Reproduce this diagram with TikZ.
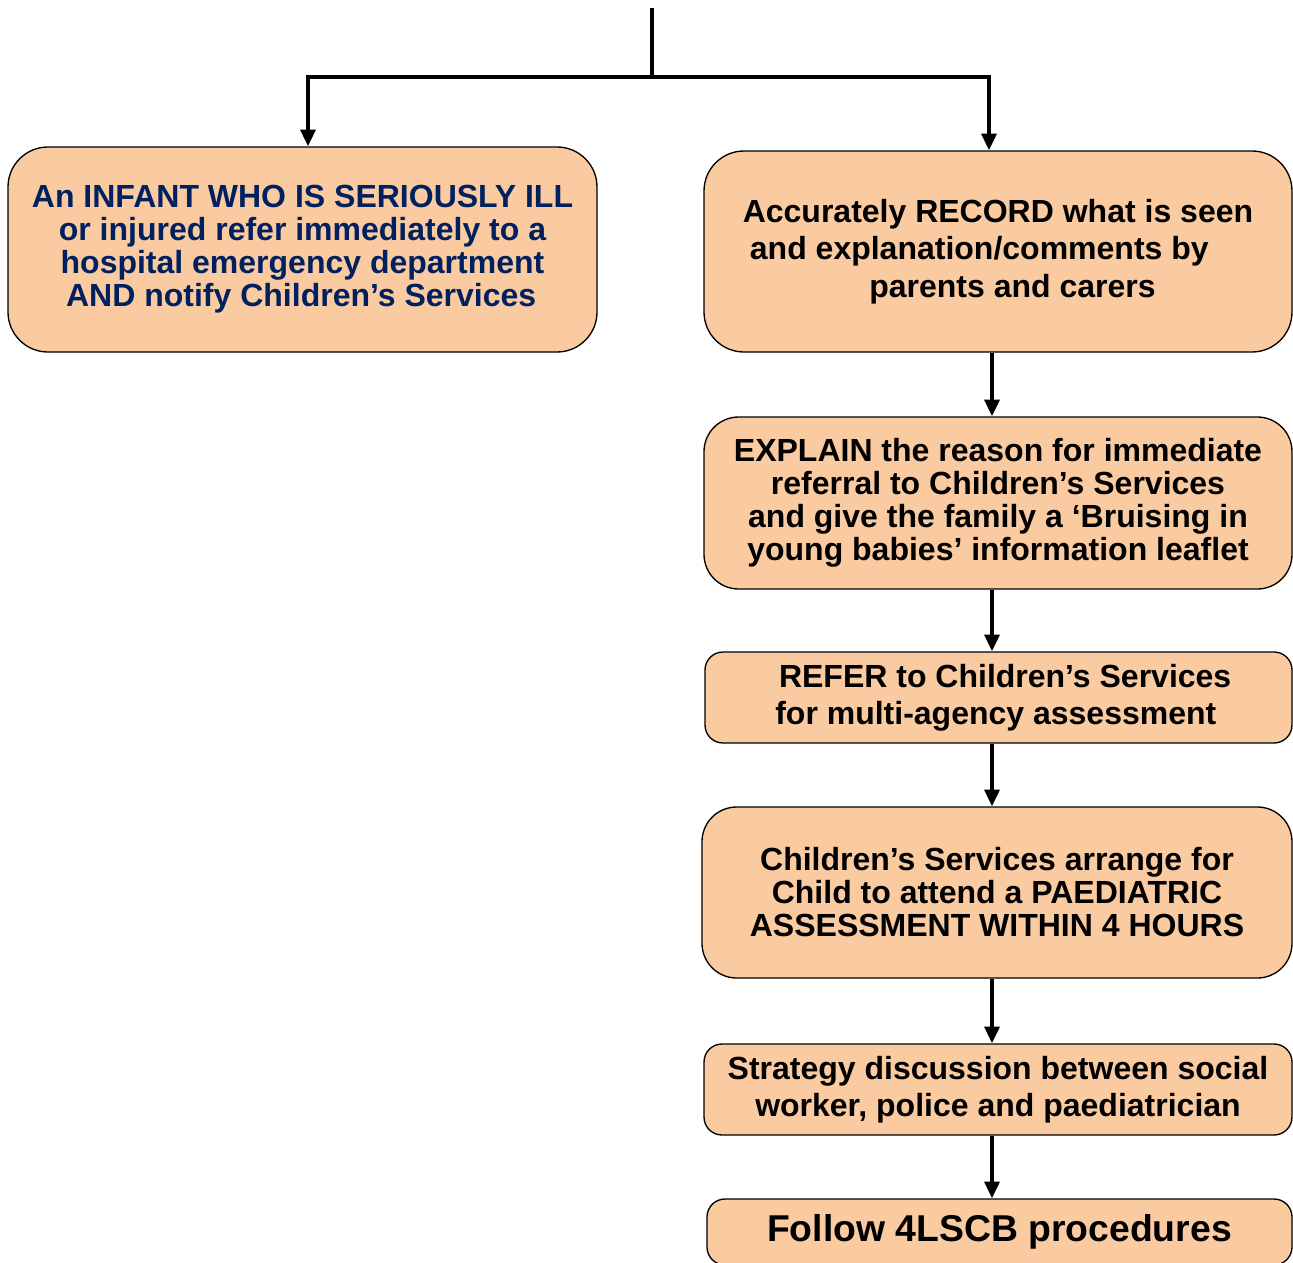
\documentclass[tikz,border=0pt]{standalone}
\usepackage{fontspec}
\setmainfont{Liberation Sans}
\usetikzlibrary{arrows.meta}

\definecolor{peach}{RGB}{250,202,160}
\definecolor{navy}{RGB}{0,32,96}

\begin{document}
\begin{tikzpicture}[x=0.75pt,y=-0.75pt,
		box/.style={draw=black,line width=1pt,fill=peach,rounded corners=30pt,
			align=center,inner sep=0pt,font=\bfseries\fontsize{24}{24.75}\selectfont},
		flatbox/.style={box,rounded corners=13.5pt,font=\bfseries\fontsize{24}{27.75}\selectfont},
		flow/.style={line width=3.6pt,line join=miter,-{Triangle[length=12.5pt,width=11pt]}}]
		
		\clip (0,0) rectangle (1293,1263);
		
		%%% left branch
		\node[box,text=navy,minimum width=441.75pt,minimum height=153.75pt] (infant) at (302.5,249.5)
			{An INFANT WHO IS SERIOUSLY ILL\\or injured refer immediately to a\\hospital emergency department\\AND notify Children’s Services\hspace*{2pt}\mbox{}};
		
		%%% right branch
		\node[box,font=\bfseries\fontsize{24}{28}\selectfont,minimum width=441pt,minimum height=150.75pt] (record) at (998,251.5)
			{Accurately RECORD what is seen\\and explanation/comments by\hspace*{28pt}\mbox{}\\\hspace*{21.75pt}parents and carers};
		\node[box,rounded corners=26pt,minimum width=441pt,minimum height=129pt] (explain) at (998,503)
			{EXPLAIN the reason for immediate\\referral to Children’s Services\\and give the family a ‘Bruising in\\young babies’ information leaflet};
		\node[flatbox,minimum width=440.25pt,minimum height=68.25pt] (refer) at (998.5,697.5)
			{\hspace*{10pt}REFER to Children’s Services\\for multi-agency assessment\hspace*{4pt}\mbox{}};
		\node[box,rounded corners=26pt,minimum width=442.5pt,minimum height=128.25pt] (paed) at (997,892.5)
			{Children’s Services arrange for\\Child to attend a PAEDIATRIC\\ASSESSMENT WITHIN 4 HOURS};
		\node[flatbox,minimum width=441pt,minimum height=68.25pt] (strategy) at (998,1089.5)
			{Strategy discussion between social\\worker, police and paediatrician};
		\node[flatbox,font=\bfseries\fontsize{28}{32}\selectfont,minimum width=438.75pt,minimum height=49.5pt] (follow) at (999.5,1232)
			{Follow 4LSCB procedures};
		
		%%% top split
		\coordinate (top) at (652,8);
		\coordinate (split) at (652,77);
		\coordinate (lx) at (308,0);
		\coordinate (rx) at (989,0);
		\coordinate (ax) at (992,0);
		
		\draw[line width=3.6pt] (top) -- (split);
		\draw[flow] (split) -| (infant.north -| lx);
		\draw[flow] (split) -| (record.north -| rx);
		
		%%% chain
		\draw[flow] (record.south -| ax) -- (explain.north -| ax);
		\draw[flow] (explain.south -| ax) -- (refer.north -| ax);
		\draw[flow] (refer.south -| ax) -- (paed.north -| ax);
		\draw[flow] (paed.south -| ax) -- (strategy.north -| ax);
		\draw[flow] (strategy.south -| ax) -- (follow.north -| ax);
		
\end{tikzpicture}
\end{document}
